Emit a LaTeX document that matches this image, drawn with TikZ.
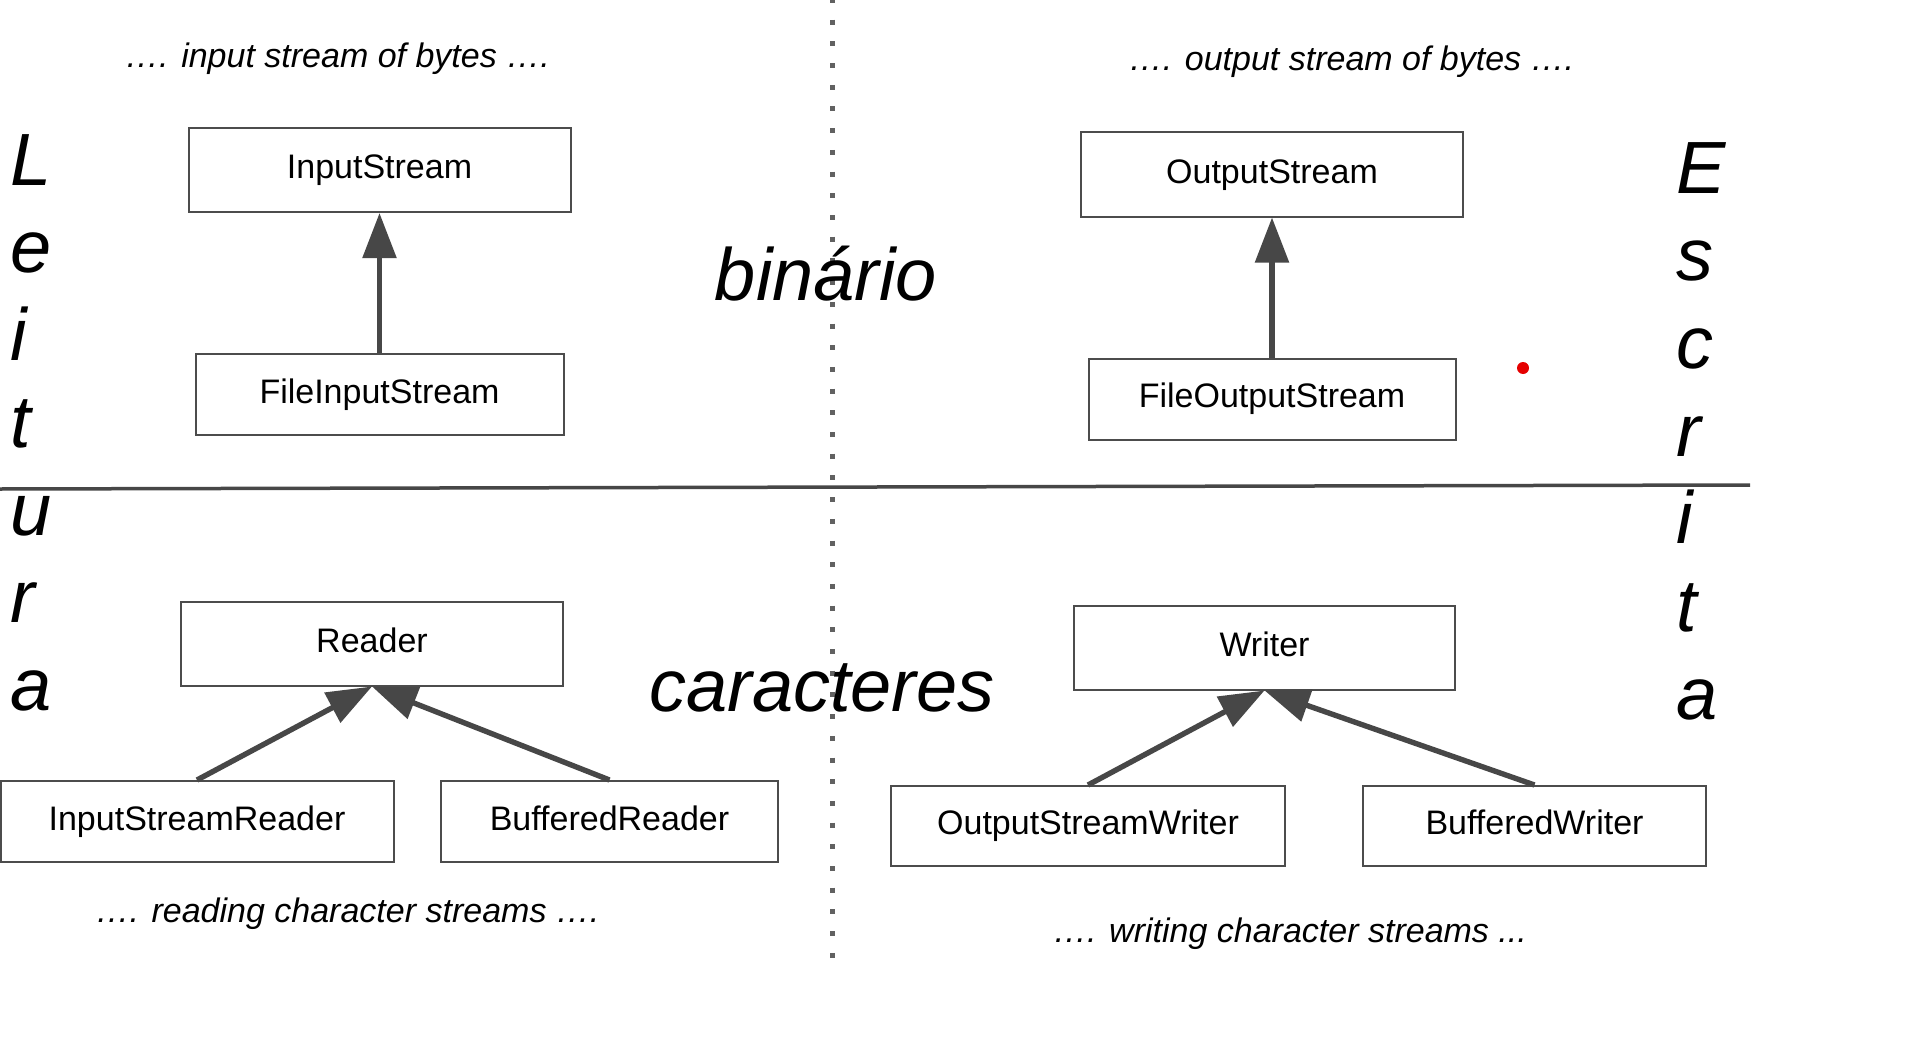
\documentclass[tikz,border=0pt]{standalone}
\usepackage{fontspec}
\setmainfont{Liberation Sans}
\usepackage{tikz}
\usetikzlibrary{arrows.meta,positioning}

\begin{document}
\begin{tikzpicture}[x=0.5pt,y=-0.5pt,->,>={Triangle[length=22.5pt,width=16.5pt]},
                    node distance=70pt,
                    classbox/.style={draw=black!70,line width=1pt,minimum width=191pt,
                      minimum height=42pt,font=\fontsize{17}{20}\selectfont,
                      text height=12.2pt,text depth=3.6pt},
                    caption/.style={font=\fontsize{17}{20}\selectfont\itshape,anchor=base,inner sep=0pt},
                    bigword/.style={font=\fontsize{37}{44}\selectfont\itshape,anchor=base,inner sep=0pt},
                    sideletter/.style={bigword,anchor=base west},
                    inherit/.style={draw=black!72,line width=2.7pt}]

  \useasboundingbox (0,0) rectangle (1916,1038);

  % separators
  \draw[-,line width=2.5pt,draw=black!62,dash pattern=on 2.5pt off 8.35pt] (832,-2) -- (832,966);
  \draw[-,line width=1.75pt,draw=black!72] (0,489) -- (1750,485);

  % binario
  \node[caption] (inbytes) at (337.5,68) {…. input stream of bytes ….};
  \node[classbox] (instream) at (379.5,170) {InputStream};
  \node[classbox,minimum width=184pt,minimum height=40.5pt] (fileinstream) [below=of instream] {FileInputStream};

  \node[caption] (outbytes) at (1351.5,71) {…. output stream of bytes ….};
  \node[classbox] (outstream) at (1272,174.5) {OutputStream};
  \node[classbox,minimum width=183.5pt,minimum height=40.5pt] (fileoutstream) [below=of outstream] {FileOutputStream};

  % caracteres
  \node[classbox] (reader) at (372,643.5) {Reader};
  \node[classbox,minimum width=196.5pt,minimum height=40.5pt] (isreader) at (197,821.5) {InputStreamReader};
  \node[classbox,minimum width=168.5pt,minimum height=40.5pt] (bufreader) at (609.5,821.5) {BufferedReader};
  \node[caption] (readchars) at (347.5,922) {…. reading character streams ….};

  \node[classbox,minimum width=190.5pt] (writer) at (1264.5,647.5) {Writer};
  \node[classbox,minimum width=197pt,minimum height=40pt] (oswriter) at (1088,826) {OutputStreamWriter};
  \node[classbox,minimum width=171.5pt,minimum height=40pt] (bufwriter) at (1534.5,826) {BufferedWriter};
  \node[caption] (writechars) at (1290,942) {…. writing character streams ...};

  \node[bigword] (binario) at (826,300) {binário};
  \node[bigword] (caracteres) at (822,711) {caracteres};

  \foreach \ch [count=\i] in {L,e,i,t,u,r,a}
    \node[sideletter] (leitura\i) at (10,{185+87.5*(\i-1)}) {\ch};
  \foreach \ch [count=\i] in {E,s,c,r,i,t,a}
    \node[sideletter] (escrita\i) at (1676,{193+87.7*(\i-1)}) {\ch};

  \fill[-,red!90!black] (1523,368) circle (6);

  \path (fileinstream) edge[inherit] (instream)
        (fileoutstream) edge[inherit] (outstream)
        (isreader.north) edge[inherit] (reader.south)
        (bufreader.north) edge[inherit] (reader.south)
        (oswriter.north) edge[inherit] (writer.south)
        (bufwriter.north) edge[inherit] (writer.south)
        ;
\end{tikzpicture}
\end{document}
